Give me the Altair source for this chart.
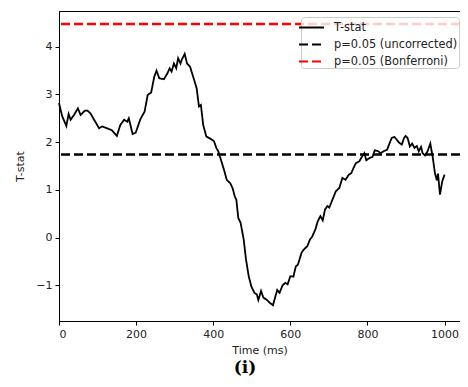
import altair as alt
import pandas as pd

time_ms = [0, 8, 19, 25, 30, 39, 49, 56, 67, 74, 82, 91, 104, 112, 125, 137, 150, 159, 169, 177,
           181, 191, 199, 211, 222, 230, 239, 247, 253, 260, 272, 281, 287, 292, 298, 304, 309, 315,
           319, 326, 332, 340, 348, 357, 363, 368, 374, 382, 395, 402, 408, 413, 420, 429, 435, 444,
           450, 456, 460, 465, 471, 479, 485, 492, 499, 507, 513, 517, 524, 530, 538, 547, 555, 559,
           566, 572, 580, 587, 593, 600, 608, 614, 620, 629, 635, 644, 651, 656, 665, 671, 678, 684,
           690, 696, 701, 710, 718, 727, 735, 743, 752, 758, 764, 770, 779, 786, 792, 797, 806, 813,
           819, 828, 834, 842, 851, 856, 863, 870, 876, 882, 889, 895, 899, 904, 910, 916, 922, 928,
           933, 939, 943, 949, 956, 963, 969, 975, 980, 983, 988, 994, 1000]
t_stat = [2.82, 2.55, 2.34, 2.59, 2.47, 2.57, 2.71, 2.57, 2.66, 2.66, 2.60, 2.47, 2.29, 2.33, 2.29,
          2.25, 2.13, 2.36, 2.47, 2.43, 2.50, 2.17, 2.20, 2.48, 2.64, 2.99, 3.04, 3.37, 3.50, 3.34,
          3.32, 3.44, 3.55, 3.48, 3.65, 3.55, 3.76, 3.65, 3.74, 3.85, 3.65, 3.58, 3.37, 3.13, 2.75,
          2.78, 2.36, 2.12, 2.06, 2.02, 1.88, 1.81, 1.63, 1.39, 1.21, 1.14, 1.04, 0.86, 0.79, 0.41,
          0.31, -0.04, -0.46, -0.81, -1.03, -1.16, -1.19, -1.31, -1.12, -1.26, -1.30, -1.37, -1.42,
          -1.30, -1.10, -1.16, -1.00, -0.95, -0.98, -0.81, -0.82, -0.61, -0.56, -0.32, -0.25, -0.18,
          -0.04, 0.01, 0.17, 0.34, 0.45, 0.36, 0.59, 0.66, 0.63, 0.81, 0.97, 1.04, 1.25, 1.21, 1.32,
          1.35, 1.46, 1.56, 1.60, 1.70, 1.77, 1.62, 1.67, 1.69, 1.83, 1.81, 1.77, 1.81, 1.84, 1.95,
          2.09, 2.11, 2.05, 1.99, 1.95, 2.09, 2.13, 2.09, 1.91, 1.97, 1.88, 1.92, 1.81, 1.90, 1.77,
          1.72, 1.81, 1.97, 1.70, 1.35, 1.20, 1.34, 0.90, 1.18, 1.32]

series_names = ["T-stat", "p=0.05 (uncorrected)", "p=0.05 (Bonferroni)"]
series_colors = ["#000000", "#000000", "#ff0000"]
series_dashes = [[1, 0], [9, 4], [9, 4]]
threshold_names = ["p=0.05 (uncorrected)", "p=0.05 (Bonferroni)"]
threshold_values = [1.74, 4.48]

x_ticks = [0, 200, 400, 600, 800, 1000]
y_ticks = [-1, 0, 1, 2, 3, 4]

line_df = pd.DataFrame({"time": time_ms, "t": t_stat, "series": "T-stat"})
thr_df = pd.DataFrame({"series": threshold_names, "value": threshold_values})

FONT = "DejaVu Sans"

legend_cfg = alt.Legend(
    title=None, orient="none", legendX=242, legendY=6,
    symbolType="M-1.5625,0H1.5625", symbolSize=256, symbolStrokeWidth=2.2,
    labelFont=FONT, labelFontSize=11.4, labelColor="#222222",
    fillColor="rgba(255,255,255,0.8)", strokeColor="#cccccc", cornerRadius=3,
    padding=1, rowPadding=2, labelOffset=13,
)

color_scale = alt.Scale(domain=series_names, range=series_colors)
dash_scale = alt.Scale(domain=series_names, range=series_dashes)

x_enc = alt.X("time:Q", scale=alt.Scale(domain=[0, 1040], nice=False, zero=False),
              axis=alt.Axis(values=x_ticks, format="d", title="Time (ms)", grid=False))

line = alt.Chart(line_df).mark_line(strokeWidth=1.8).encode(
    x=x_enc,
    y=alt.Y("t:Q", scale=alt.Scale(domain=[-1.75, 4.75], nice=False, zero=False),
            axis=alt.Axis(values=y_ticks, title="T-stat", grid=False)),
    color=alt.Color("series:N", scale=color_scale, legend=legend_cfg),
    strokeDash=alt.StrokeDash("series:N", scale=dash_scale, legend=legend_cfg),
)

rules = alt.Chart(thr_df).mark_rule(strokeWidth=2.5).encode(
    y=alt.Y("value:Q"),
    color=alt.Color("series:N", scale=color_scale, legend=legend_cfg),
    strokeDash=alt.StrokeDash("series:N", scale=dash_scale, legend=legend_cfg),
)

chart = alt.layer(rules, line).properties(
    width=401, height=310,
    autosize=alt.AutoSizeParams(type="none"),
    padding={"left": 51, "top": 3, "right": 0, "bottom": 58},
    title=alt.TitleParams("(i)", orient="bottom", font="DejaVu Serif", fontSize=17,
                          fontWeight="bold", color="#000000", dx=-14.5, offset=5),
).configure_view(
    stroke="#000000", strokeWidth=1
).configure_axis(
    labelFont=FONT, labelFontSize=11, labelColor="#222222",
    titleFont=FONT, titleFontSize=11, titleFontWeight="normal", titleColor="#222222",
    domainColor="#000000", tickColor="#000000", tickSize=4, labelPadding=3,
).configure_axisX(titlePadding=5).configure_axisY(titlePadding=10)

chart.save("out.html", embed_options={"renderer": "svg", "actions": False})
